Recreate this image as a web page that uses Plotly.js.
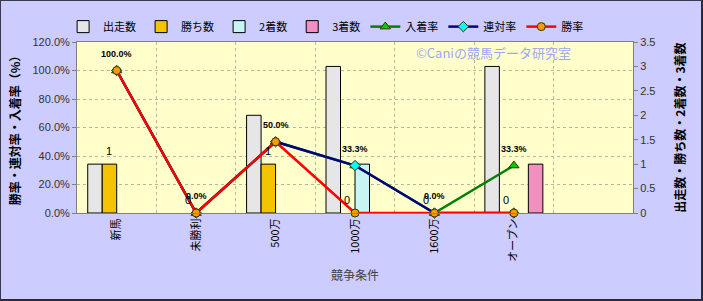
<!DOCTYPE html>
<html>
<head>
<meta charset="utf-8">
<script src="https://cdn.plot.ly/plotly-3.0.1.min.js"></script>
<style>
  html, body { margin: 0; padding: 0; background: #CCCCFF; }
  #wrap { position: relative; width: 703px; height: 301px; }
  #chart { position: absolute; left: 0; top: 0; width: 703px; height: 301px; }
  #frame { position: absolute; left: 0; top: 0; width: 703px; height: 301px; box-sizing: border-box;
           border-top: 1px solid #3a3a4a; border-left: 1px solid #3a3a4a; border-right: 2px solid #2a2a3a; border-bottom: 2px solid #2a2a3a; pointer-events: none; }
</style>
</head>
<body>
<div id="wrap"><div id="chart"></div><div id="frame"></div></div>
<script>
// ---- data ----
const categories = ['新馬', '未勝利', '500万', '1000万', '1600万', 'オープン', ' '];
const starts  = [1, 0, 2, 3, 0, 3];      // 出走数
const wins    = [1, 0, 1, 0, 0, 0];      // 勝ち数
const seconds = [0, 0, 0, 1, 0, 0];      // 2着数
const thirds  = [0, 0, 0, 0, 0, 1];      // 3着数
const placeRate   = [100, 0, 50, 33.3, 0, 33.3]; // 入着率 (%)
const rentaiRate  = [100, 0, 50, 33.3, 0, 0];    // 連対率 (%)
const winRate     = [100, 0, 50, 0, 0, 0];       // 勝率 (%)
const leftTicks  = [0, 20, 40, 60, 80, 100, 120];
const rightTicks = [0, 0.5, 1, 1.5, 2, 2.5, 3, 3.5];

const cats = categories.slice(0, 6);
const jp = '"Noto Sans CJK JP", "Noto Sans", sans-serif';
const lat = '"Liberation Sans", Arial, sans-serif';

function bar(name, vals, color) {
  return {
    type: 'bar', name: name, x: cats, y: vals.map(v => v > 0 ? v : null), yaxis: 'y',
    marker: { color: color, line: { color: '#000000', width: 1 } },
    hoverinfo: 'skip'
  };
}
function line(name, vals, color, sym, mcolor, msize) {
  return {
    type: 'scatter', mode: 'lines+markers', name: name, x: cats, y: vals, yaxis: 'y2',
    line: { color: color, width: 2.5 },
    marker: { symbol: sym, color: mcolor, size: msize, line: { color: '#333300', width: 1 } },
    cliponaxis: false, hoverinfo: 'skip'
  };
}

const traces = [
  bar('出走数', starts, '#E6E6E6'),
  bar('勝ち数', wins, '#F5C400'),
  bar('2着数', seconds, '#C8F4F4'),
  bar('3着数', thirds, '#F090C0'),
  line('入着率', placeRate, '#008000', 'triangle-up', '#00CC00', 9),
  line('連対率', rentaiRate, '#000080', 'diamond', '#00FFFF', 8),
  line('勝率', winRate, '#FF0000', 'circle', '#FF9900', 8)
];

// data labels: 入着率 values above the line points, 勝ち数 above its bars
const rateLabels = cats.map((c, i) => ({
  x: c, y: placeRate[i], xref: 'x', yref: 'y2', text: placeRate[i].toFixed(1) + '%',
  showarrow: false, yshift: 17, xanchor: 'center', yanchor: 'middle',
  font: { family: lat, size: 9, color: '#000000', weight: 'bold' }
}));
const winLabels = cats.map((c, i) => ({
  x: c, y: wins[i], xref: 'x', yref: 'y', text: String(wins[i]),
  showarrow: false, yshift: 13, xshift: -8, xanchor: 'center', yanchor: 'middle',
  font: { family: lat, size: 11, color: '#000000' }
}));

const layout = {
  width: 703, height: 301,
  margin: { l: 77, r: 70, t: 25, b: 88, pad: 0 },
  paper_bgcolor: '#CCCCFF',
  plot_bgcolor: '#FFFFCC',
  barmode: 'group', bargap: 0.27, bargroupgap: 0,
  showlegend: true,
  legend: {
    orientation: 'h', x: -0.025, xanchor: 'left', y: 1.09, yanchor: 'middle',
    bgcolor: 'rgba(0,0,0,0)', font: { family: jp, size: 11, color: '#000000' },
    traceorder: 'normal', itemwidth: 30, tracegroupgap: 0
  },
  xaxis: {
    type: 'category', categoryorder: 'array', categoryarray: categories,
    range: [-0.5, 6.5], tickson: 'boundaries',
    showgrid: true, gridcolor: '#B8B8A0', griddash: 'dot', gridwidth: 1,
    showline: true, linecolor: '#808080', linewidth: 1, mirror: true,
    ticks: '', tickangle: -90,
    tickfont: { family: jp, size: 11, color: '#000000' },
    title: { text: '競争条件', font: { family: jp, size: 12, color: '#404040' }, standoff: 10 },
    fixedrange: true
  },
  yaxis: {
    side: 'right', range: [0, 3.5], tickvals: rightTicks, ticktext: rightTicks.map(String),
    showgrid: false, zeroline: false,
    showline: true, linecolor: '#808080', linewidth: 1,
    ticks: 'outside', ticklen: 4, tickcolor: '#808080',
    tickfont: { family: lat, size: 11, color: '#333333' },
    fixedrange: true
  },
  yaxis2: {
    overlaying: 'y', side: 'left', range: [0, 120], tickvals: leftTicks,
    ticktext: leftTicks.map(v => v.toFixed(1) + '%'),
    showgrid: true, gridcolor: '#B8B8A0', griddash: 'dot', gridwidth: 1, zeroline: false,
    showline: true, linecolor: '#808080', linewidth: 1,
    ticks: 'outside', ticklen: 4, tickcolor: '#808080',
    tickfont: { family: lat, size: 11, color: '#333333' },
    fixedrange: true
  },
  annotations: [
    { text: '勝率・連対率・入着率（%）', xref: 'paper', yref: 'paper', x: -0.112, y: 0.5,
      xanchor: 'center', yanchor: 'middle', textangle: -90, showarrow: false,
      font: { family: jp, size: 12, color: '#000000', weight: 'bold' } },
    { text: '出走数・勝ち数・2着数・3着数', xref: 'paper', yref: 'paper', x: 1.083, y: 0.5,
      xanchor: 'center', yanchor: 'middle', textangle: -90, showarrow: false,
      font: { family: jp, size: 12, color: '#000000', weight: 'bold' } },
    { text: '©Caniの競馬データ研究室', xref: 'paper', yref: 'paper', x: 0.892, y: 0.94,
      xanchor: 'right', yanchor: 'middle', showarrow: false,
      font: { family: jp, size: 13, color: '#9FA6F5' } }
  ].concat(winLabels, rateLabels)
};

Plotly.newPlot('chart', traces, layout, { displayModeBar: false, staticPlot: true });
</script>
</body>
</html>
